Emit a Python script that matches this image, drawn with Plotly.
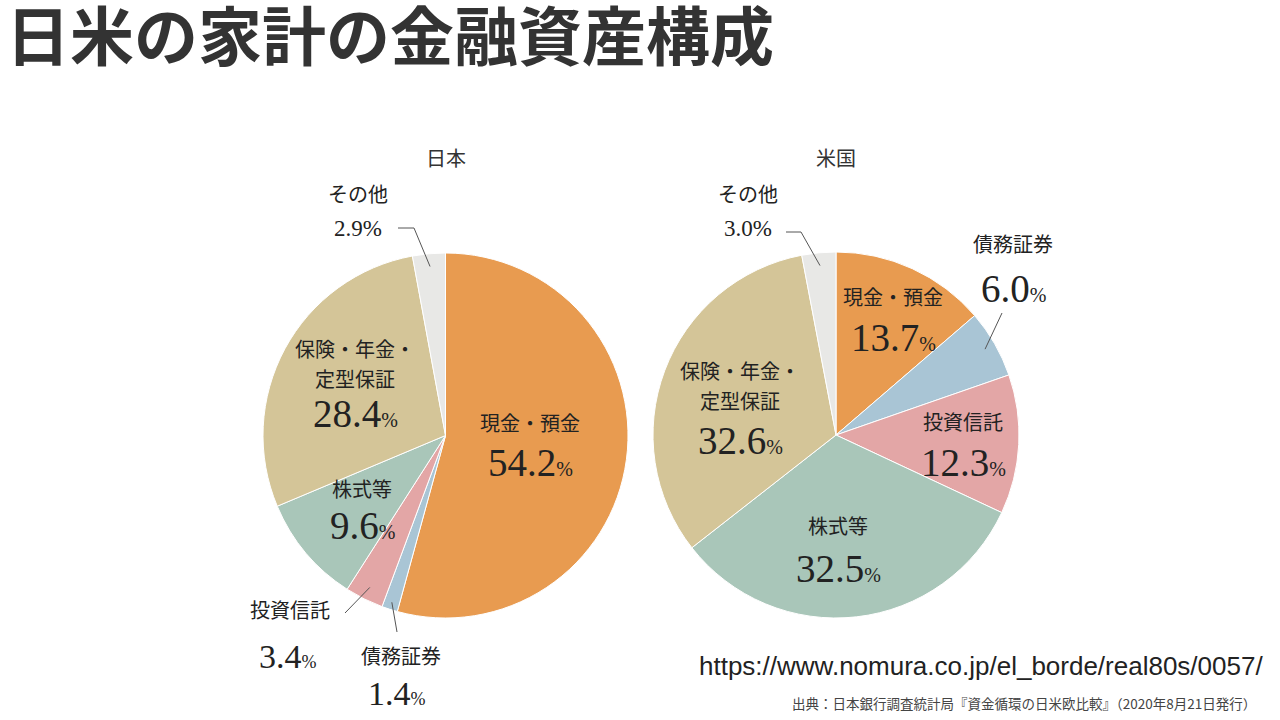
import math
import plotly.graph_objects as go

# データ（日本銀行調査統計局「資金循環の日米欧比較」2020年8月21日）
kategorie = ["現金・預金", "債務証券", "投資信託", "株式等", "保険・年金・定型保証", "その他"]
werte_jp = [54.2, 1.4, 3.4, 9.6, 28.4, 2.9]
werte_us = [13.7, 6.0, 12.3, 32.5, 32.6, 3.0]
farben = ["#E89B50", "#A9C5D5", "#E3A6A6", "#A9C6B9", "#D4C598", "#E8E8E6"]

W, H = 1280, 720
SERIF = "Liberation Serif, Noto Sans CJK JP"
SANS = "Noto Sans CJK JP"

# Kreisbereiche in Pixel (links, oben, rechts, unten)
box_jp = (263, 253, 628, 618)
box_us = (653, 252, 1019, 618)


def dom(box):
    l, t, r, b = box
    return dict(x=[l / W, r / W], y=[1 - b / H, 1 - t / H])


def punkt(box, werte, i, frac):
    # Punkt auf der Mitte eines Segments (im Uhrzeigersinn ab 12 Uhr)
    l, t, r, b = box
    cx, cy, rad = (l + r) / 2, (t + b) / 2, (r - l) / 2
    summe = sum(werte)
    start = sum(werte[:i]) / summe * 360
    mitte = math.radians(start + werte[i] / summe * 180)
    return cx + rad * frac * math.sin(mitte), cy - rad * frac * math.cos(mitte)


fig = go.Figure()
for werte, box in [(werte_jp, box_jp), (werte_us, box_us)]:
    fig.add_trace(go.Pie(labels=kategorie, values=werte, sort=False, direction="clockwise",
                         rotation=0, textinfo="none", hoverinfo="label+value",
                         marker=dict(colors=farben, line=dict(color="white", width=1)),
                         domain=dom(box), showlegend=False))

annos = []


def text(x, y, s, size, font=SERIF, color="#222", xanchor="center", yanchor="middle"):
    annos.append(dict(x=x / W, y=1 - y / H, xref="paper", yref="paper", text=s, showarrow=False,
                      xanchor=xanchor, yanchor=yanchor, font=dict(family=font, size=size, color=color)))


def prozent(wert, klein=20):
    return f"{wert:.1f}<span style='font-size:{klein}px'>%</span>"


def label(name, wert, x, y, y2=None, name2=None):
    # Kategoriename + großer Prozentwert
    text(x, y, name, 20)
    if name2:
        text(x, y + 30, name2, 20)
        y = y + 30
    text(x, y2 if y2 else y + 38, prozent(wert), 39)


def klein(name, wert, x, y):
    text(x, y, name, 20)
    text(x, y + 33, f"{wert:.1f}%", 23)


# Überschriften der Kreise
text(446, 157, "日本", 20, font=SANS, color="#333")
text(836, 157, "米国", 20, font=SANS, color="#333")

# Japan
label(kategorie[0], werte_jp[0], 530, 424, y2=462)
label("保険・年金・", werte_jp[4], 355, 350, name2="定型保証", y2=414)
label(kategorie[3], werte_jp[3], 362, 490, y2=525)
klein(kategorie[5], werte_jp[5], 358, 195)
text(290, 611, kategorie[2], 20)
text(288, 656, prozent(werte_jp[2], 18), 34)
text(401, 657, kategorie[1], 20)
text(397, 693, prozent(werte_jp[1], 18), 34)

# USA
label(kategorie[0], werte_us[0], 893, 298, y2=337)
label("保険・年金・", werte_us[4], 740, 372, name2="定型保証", y2=440)
label(kategorie[2], werte_us[2], 963, 423, y2=462)
label(kategorie[3], werte_us[3], 838, 527, y2=568)
klein(kategorie[5], werte_us[5], 748, 195)
text(1013, 245, kategorie[1], 20)
text(1013, 288, prozent(werte_us[1]), 39)

# Quelle
text(1265, 666, "https://www.nomura.co.jp/el_borde/real80s/0057/", 26,
     font="Liberation Sans, Noto Sans CJK JP", color="#222", xanchor="right")
text(1258, 703, "出典：日本銀行調査統計局『資金循環の日米欧比較』（2020年8月21日発行）", 13.5,
     font=SANS, color="#444", xanchor="right")

# Hinweislinien für kleine Segmente
linien = []


def linie(pts):
    p = " L ".join(f"{x / W},{1 - y / H}" for x, y in pts)
    linien.append(dict(type="path", xref="paper", yref="paper", path="M " + p,
                       line=dict(color="#555", width=1)))


linie([(398, 228), (414, 228), punkt(box_jp, werte_jp, 5, 0.93)])
linie([(345, 613), punkt(box_jp, werte_jp, 2, 0.93)])
linie([(397, 632), punkt(box_jp, werte_jp, 1, 0.96)])
linie([(786, 232), (801, 232), punkt(box_us, werte_us, 5, 0.93)])
linie([(1002, 313), punkt(box_us, werte_us, 1, 0.94)])

fig.update_layout(width=W, height=H, margin=dict(l=0, r=0, t=0, b=0),
                  paper_bgcolor="white", plot_bgcolor="white",
                  title=dict(text="<b>日米の家計の金融資産構成</b>", xref="container", yref="container",
                             x=6 / W, xanchor="left", y=1 - 38 / H, yanchor="middle",
                             font=dict(family=SANS, size=64, color="#333")),
                  annotations=annos, shapes=linien)

# Seitenrand des Browsers entfernen, damit die Grafik bei (0,0) liegt
fig.write_html("out.html", config={"displayModeBar": False},
               post_script="document.body.style.margin='0';document.body.style.overflow='hidden';")
